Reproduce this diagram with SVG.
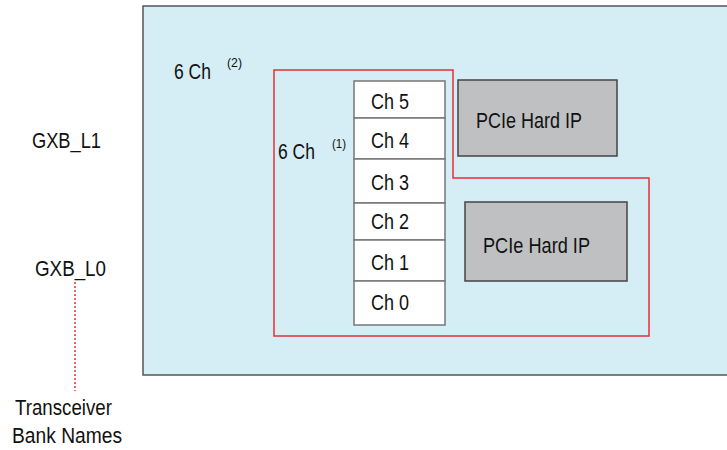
<svg xmlns="http://www.w3.org/2000/svg" width="727" height="450" viewBox="0 0 727 450">
<style>
text{font-family:"Liberation Sans",Arial,sans-serif;font-size:22px;fill:#111;}
.sup{font-size:12px;}
.ch{fill:#fff;stroke:#777;stroke-width:1.5;}
.ip{fill:#bfc0c2;stroke:#444;stroke-width:1.5;}
</style>
<g id="bank">
<rect x="143" y="6" width="600" height="369" fill="#d5edf5" stroke="#555" stroke-width="1.5"/>
</g>
<g id="group6ch">
<polygon points="274,70 453,70 453,178 649,178 649,336 274,336" fill="none" stroke="#e8303a" stroke-width="1.5"/>
</g>
<g id="label6ch2">
<text x="174" y="79" textLength="37" lengthAdjust="spacingAndGlyphs">6 Ch</text>
<text class="sup" x="227" y="67" textLength="15" lengthAdjust="spacingAndGlyphs">(2)</text>
</g>
<g id="label6ch1">
<text x="278" y="159" textLength="37" lengthAdjust="spacingAndGlyphs">6 Ch</text>
<text class="sup" x="332" y="148" textLength="14" lengthAdjust="spacingAndGlyphs">(1)</text>
</g>
<g id="ch5"><rect class="ch" x="354" y="81" width="91" height="37"/><text x="371" y="109" textLength="38" lengthAdjust="spacingAndGlyphs">Ch 5</text></g>
<g id="ch4"><rect class="ch" x="354" y="118" width="91" height="41"/><text x="371" y="148" textLength="38" lengthAdjust="spacingAndGlyphs">Ch 4</text></g>
<g id="ch3"><rect class="ch" x="354" y="159" width="91" height="44"/><text x="371" y="190" textLength="38" lengthAdjust="spacingAndGlyphs">Ch 3</text></g>
<g id="ch2"><rect class="ch" x="354" y="203" width="91" height="37"/><text x="371" y="229" textLength="38" lengthAdjust="spacingAndGlyphs">Ch 2</text></g>
<g id="ch1"><rect class="ch" x="354" y="240" width="91" height="41"/><text x="371" y="270" textLength="38" lengthAdjust="spacingAndGlyphs">Ch 1</text></g>
<g id="ch0"><rect class="ch" x="354" y="281" width="91" height="44"/><text x="371" y="310" textLength="38" lengthAdjust="spacingAndGlyphs">Ch 0</text></g>
<g id="pcie1"><rect class="ip" x="458" y="80" width="159" height="76"/><text x="476" y="128" textLength="106" lengthAdjust="spacingAndGlyphs">PCIe Hard IP</text></g>
<g id="pcie0"><rect class="ip" x="465" y="202" width="162" height="79"/><text x="483" y="253" textLength="107" lengthAdjust="spacingAndGlyphs">PCIe Hard IP</text></g>
<g id="gxbL1"><text x="32" y="148" textLength="69" lengthAdjust="spacingAndGlyphs">GXB_L1</text></g>
<g id="gxbL0"><text x="35" y="276" textLength="71" lengthAdjust="spacingAndGlyphs">GXB_L0</text></g>
<g id="bankNames">
<text x="15" y="415" textLength="97" lengthAdjust="spacingAndGlyphs">Transceiver</text>
<text x="12" y="443" textLength="110" lengthAdjust="spacingAndGlyphs">Bank Names</text>
</g>
<g id="connectors">
<line x1="75" y1="282" x2="75" y2="391" stroke="#e8303a" stroke-width="1.5" stroke-dasharray="2,2"/>
</g>
</svg>
